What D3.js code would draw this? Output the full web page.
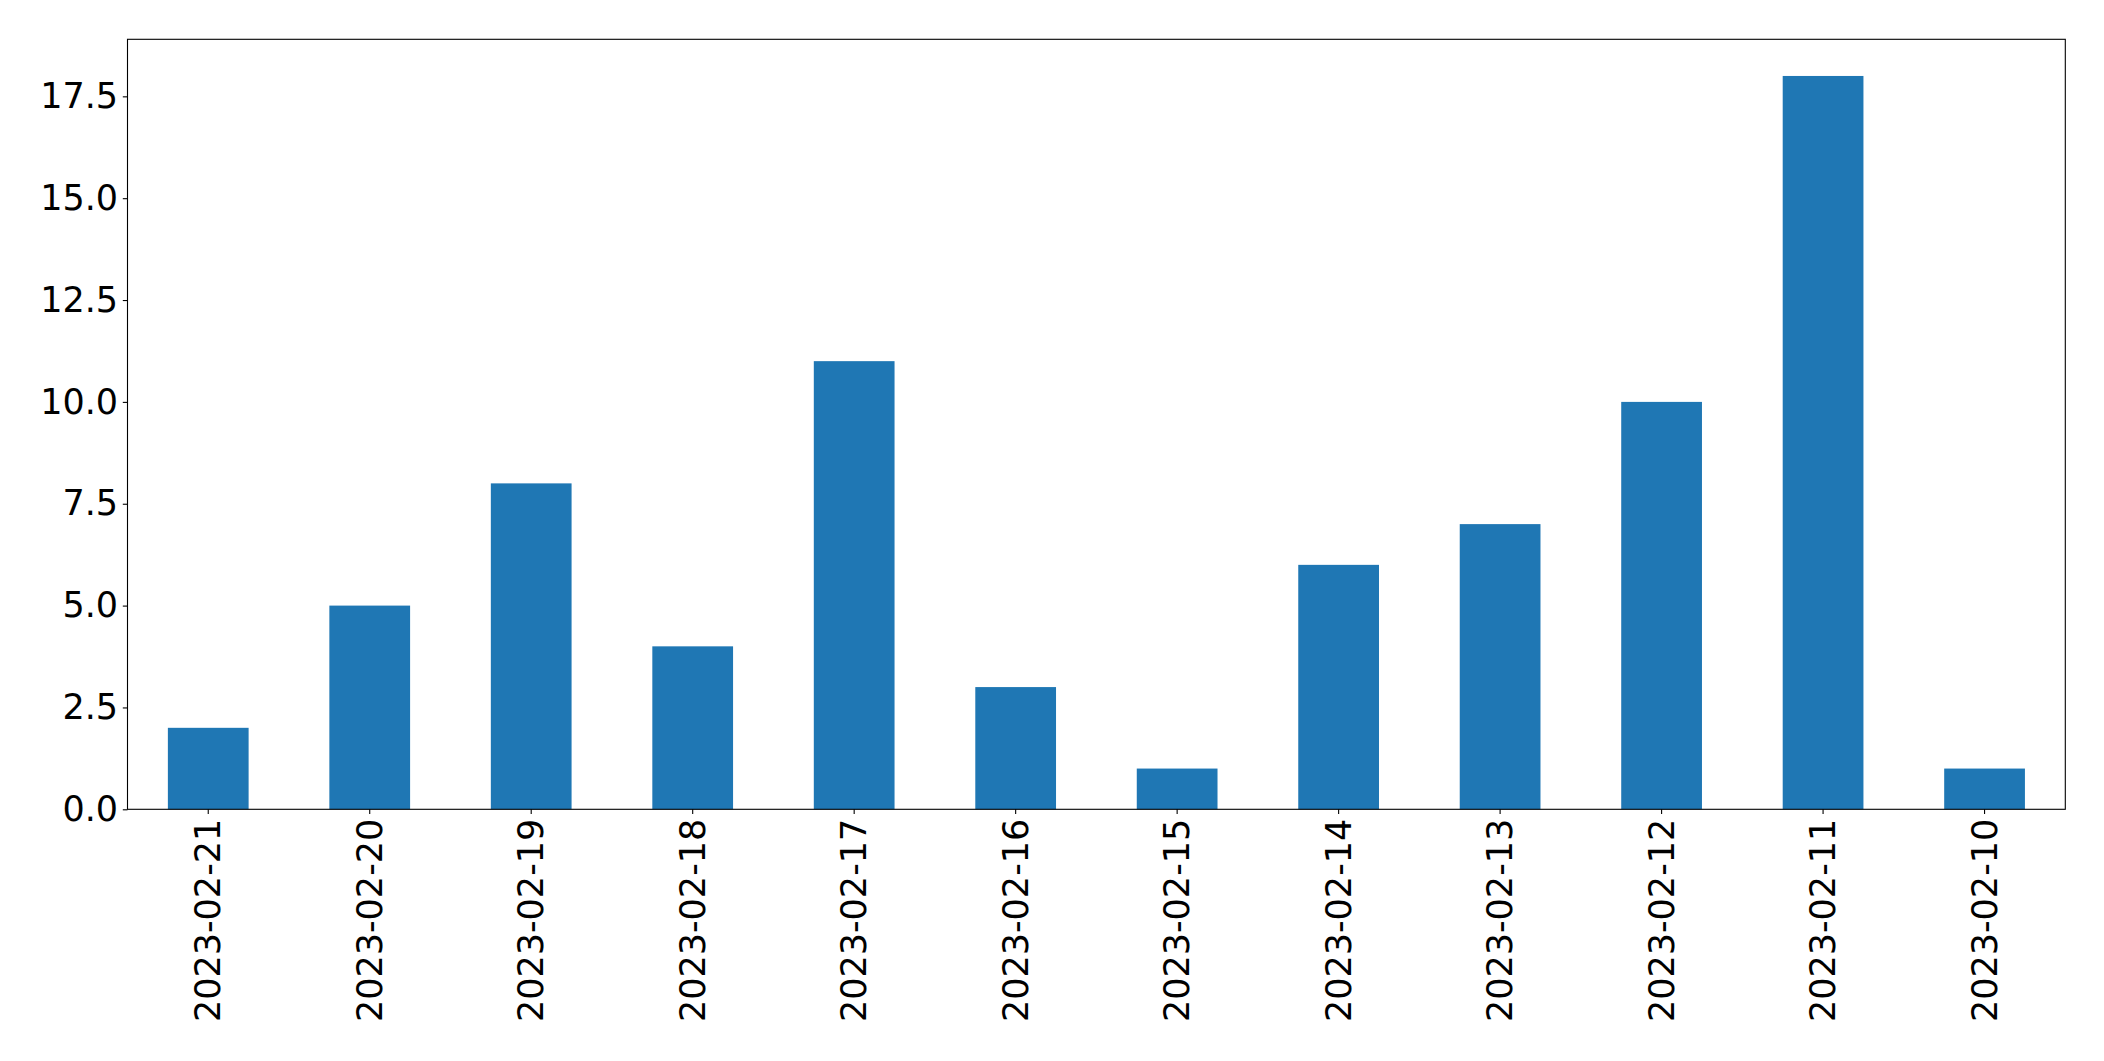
<!DOCTYPE html>
<html>
<head>
<meta charset="utf-8">
<script src="https://cdn.jsdelivr.net/npm/d3@7"></script>
<style>
  body { margin: 0; background: #fff; }
  text { font-family: "DejaVu Sans", sans-serif; }
</style>
</head>
<body>
<div id="chart"></div>
<script>
var dates = ["2023-02-21", "2023-02-20", "2023-02-19", "2023-02-18", "2023-02-17", "2023-02-16",
             "2023-02-15", "2023-02-14", "2023-02-13", "2023-02-12", "2023-02-11", "2023-02-10"];
var counts = [2, 5, 8, 4, 11, 3, 1, 6, 7, 10, 18, 1];
var yTicks = [0, 2.5, 5, 7.5, 10, 12.5, 15, 17.5];

var W = 2104, H = 1061;
var margin = {top: 39.3, right: 2104 - 2065.3, bottom: 1061 - 809.3, left: 127.5},
    width = W - margin.left - margin.right,
    height = H - margin.top - margin.bottom;

var svg = d3.select("#chart").append("svg")
    .attr("width", W)
    .attr("height", H);
var g = svg.append("g").attr("transform", "translate(" + margin.left + "," + margin.top + ")");

var x = d3.scaleBand()
    .domain(dates)
    .range([0, width])
    .paddingInner(0.5)
    .paddingOuter(0.25);

var y = d3.scaleLinear()
    .domain([0, d3.max(counts) * 1.05])
    .range([height, 0]);

// bars
g.selectAll("rect.bar")
    .data(counts)
    .enter().append("rect")
    .attr("class", "bar")
    .attr("x", function(d, i) { return x(dates[i]); })
    .attr("y", function(d) { return y(d); })
    .attr("width", x.bandwidth())
    .attr("height", function(d) { return height - y(d); })
    .attr("fill", "#1f77b4");

// y axis
var yAxis = g.append("g")
    .call(d3.axisLeft(y).tickValues(yTicks).tickFormat(d3.format(".1f")).tickSize(4.7).tickPadding(4.7));
yAxis.select(".domain").remove();
yAxis.selectAll("line").attr("stroke", "#000").attr("stroke-width", 1.1);
yAxis.selectAll("text").attr("font-size", 35).attr("fill", "#000");

// x axis
var xAxis = g.append("g")
    .attr("transform", "translate(0," + height + ")")
    .call(d3.axisBottom(x).tickSize(4.7).tickPadding(0));
xAxis.select(".domain").remove();
xAxis.selectAll("line").attr("stroke", "#000").attr("stroke-width", 1.1);
xAxis.selectAll("text")
    .attr("font-size", 35)
    .attr("fill", "#000")
    .attr("text-anchor", "end")
    .attr("transform", "translate(0,9.4) rotate(-90)")
    .attr("x", 0)
    .attr("y", 0)
    .attr("dy", "0.35em");

// frame
g.append("rect")
    .attr("width", width)
    .attr("height", height)
    .attr("fill", "none")
    .attr("stroke", "#000")
    .attr("stroke-width", 1.1);
</script>
</body>
</html>
